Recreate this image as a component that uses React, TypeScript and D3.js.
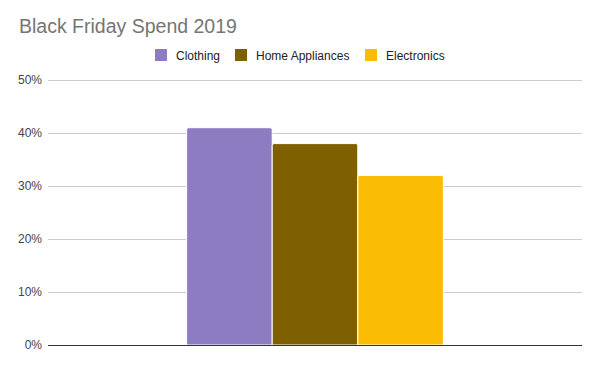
import { useEffect, useRef } from 'react';
import * as d3 from 'd3';

const categories = ['Black Friday'];
const seriesNames = ['Clothing', 'Home Appliances', 'Electronics'];
const seriesValues = [41, 38, 32];
const seriesColors = ['#8e7cc3', '#7f6000', '#fbbc04'];
const yTicks = [0, 10, 20, 30, 40, 50];

const App = () => {
  const svgRef = useRef<SVGSVGElement>(null);

  useEffect(() => {
    const width = 600;
    const height = 370;
    const margin = { top: 80, right: 18, bottom: 25, left: 48 };

    const svg = d3.select(svgRef.current)
      .attr('width', width)
      .attr('height', height)
      .style('font-family', 'Arial, "Liberation Sans", sans-serif');
    svg.selectAll('*').remove();

    const x = d3.scaleBand()
      .domain(categories)
      .range([margin.left, width - margin.right])
      .paddingInner(0)
      .paddingOuter(0.54);

    const xs = d3.scaleBand()
      .domain(seriesNames)
      .range([0, x.bandwidth()])
      .padding(0);

    const y = d3.scaleLinear()
      .domain([0, 50])
      .range([height - margin.bottom, margin.top]);

    svg.append('text')
      .attr('x', 19)
      .attr('y', 33)
      .attr('font-size', 19.5)
      .attr('fill', '#757575')
      .text('Black Friday Spend 2019');

    // gridlines
    svg.append('g')
      .selectAll('line')
      .data(yTicks.slice(1))
      .join('line')
      .attr('x1', margin.left)
      .attr('x2', width - margin.right)
      .attr('y1', d => Math.round(y(d)) + 0.5)
      .attr('y2', d => Math.round(y(d)) + 0.5)
      .attr('stroke', '#cccccc');

    svg.append('g')
      .attr('text-anchor', 'end')
      .selectAll('text')
      .data(yTicks)
      .join('text')
      .attr('x', 42)
      .attr('y', d => y(d) + 4)
      .attr('font-size', 12)
      .attr('fill', '#444')
      .text(d => `${d}%`);

    const rows = seriesNames.map((name, i) => ({ name, value: seriesValues[i], color: seriesColors[i] }));

    svg.append('g')
      .selectAll('path')
      .data(rows)
      .join('path')
      .attr('fill', d => d.color)
      .attr('stroke', 'white')
      .attr('stroke-width', 1)
      .attr('d', d => {
        const x0 = x(categories[0])! + xs(d.name)!;
        const w = xs.bandwidth();
        const top = y(d.value);
        const bottom = y(0);
        const r = 2;
        return `M${x0},${bottom}V${top + r}Q${x0},${top} ${x0 + r},${top}H${x0 + w - r}Q${x0 + w},${top} ${x0 + w},${top + r}V${bottom}Z`;
      });

    svg.append('line')
      .attr('x1', margin.left)
      .attr('x2', width - margin.right)
      .attr('y1', Math.round(y(0)) + 0.5)
      .attr('y2', Math.round(y(0)) + 0.5)
      .attr('stroke', '#333');

    // legend
    const legendX = [155, 235, 365];
    const legend = svg.append('g')
      .selectAll('g')
      .data(rows)
      .join('g')
      .attr('transform', (d, i) => `translate(${legendX[i]},49)`);
    legend.append('rect')
      .attr('width', 12)
      .attr('height', 12)
      .attr('fill', d => d.color);
    legend.append('text')
      .attr('x', 21)
      .attr('y', 10.5)
      .attr('font-size', 12)
      .attr('fill', '#222')
      .text(d => d.name);
  }, []);

  return <svg ref={svgRef} style={{ position: 'absolute', left: 0, top: 0 }}></svg>;
};

export default App;
